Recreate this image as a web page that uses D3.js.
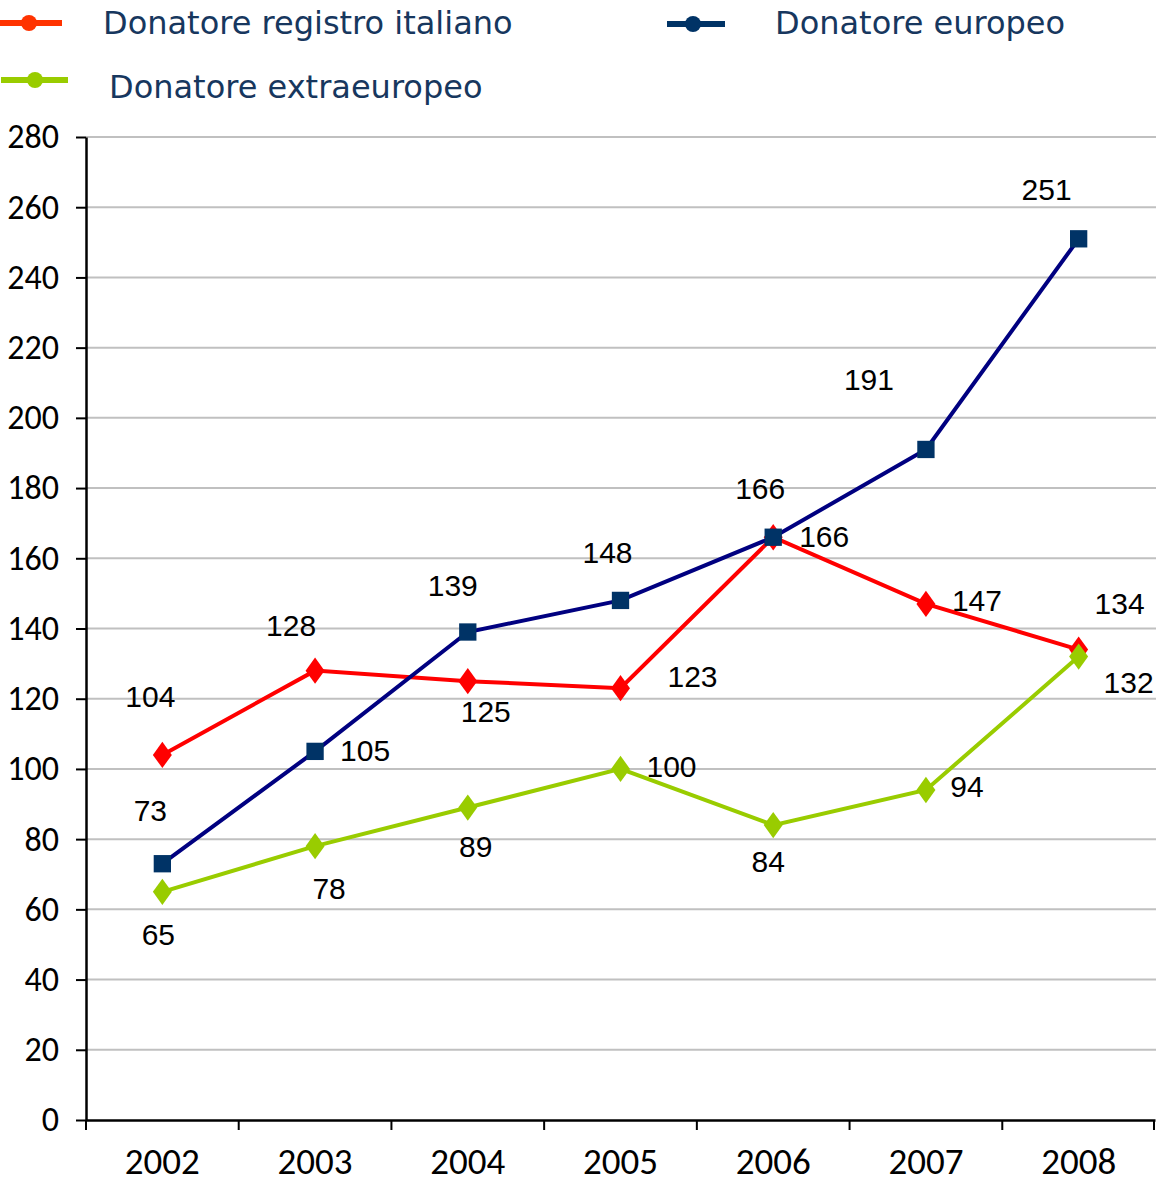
<!DOCTYPE html>
<html>
<head>
<meta charset="utf-8">
<script src="https://cdn.jsdelivr.net/npm/d3@7"></script>
<style>
  body { margin: 0; background: #fff; }
  svg { display: block; }
</style>
</head>
<body>
<div id="chart"></div>
<script>
'use strict';

var years = ['2002', '2003', '2004', '2005', '2006', '2007', '2008'];
var italiano = [104, 128, 125, 123, 166, 147, 134];
var europeo = [73, 105, 139, 148, 166, 191, 251];
var extraeuropeo = [65, 78, 89, 100, 84, 94, 132];
var yTicks = [0, 20, 40, 60, 80, 100, 120, 140, 160, 180, 200, 220, 240, 260, 280];

// label offsets (dx, dy) from the point, as placed in the original
var italianoOff = [[-12, -58], [-24, -45], [18, 30], [72, -12], [51, -1], [51, -3], [41, -46]];
var europeoOff = [[-12, -53], [50, -1], [-15, -47], [-13, -48], [-13, -49], [-57, -70], [-32, -49]];
var extraOff = [[-4, 43], [14, 42], [8, 39], [51, -2], [-5, 36], [41, -3], [50, 26]];

var W = 1156, H = 1186;
var margin = {left: 86, right: 1, top: 137, bottom: 66};

var svg = d3.select('#chart').append('svg')
  .attr('width', W).attr('height', H);

var x = d3.scaleBand().domain(years)
  .range([margin.left, W - margin.right]);
var y = d3.scaleLinear().domain([0, 280])
  .range([H - margin.bottom, margin.top]);

var cx = function(d, i){ return x(years[i]) + x.bandwidth() / 2; };

// gridlines
svg.append('g').selectAll('line')
  .data(yTicks.filter(function(d){ return d > 0; }))
  .enter().append('line')
    .attr('x1', margin.left).attr('x2', W)
    .attr('y1', function(d){ return y(d); })
    .attr('y2', function(d){ return y(d); })
    .attr('stroke', '#c0c0c0').attr('stroke-width', 2);

// axes
var yAxis = svg.append('g')
  .attr('transform', 'translate(' + margin.left + ',0)')
  .call(d3.axisLeft(y).tickValues(yTicks).tickSize(10).tickSizeOuter(0).tickPadding(17));
yAxis.selectAll('text')
  .style('font-family', 'Carlito, Lato, sans-serif')
  .style('font-size', '34px').attr('fill', '#000');

var xAxis = svg.append('g')
  .attr('transform', 'translate(0,' + y(0) + ')')
  .call(d3.axisBottom(x).tickSize(0).tickSizeOuter(0).tickPadding(28));
xAxis.selectAll('text')
  .style('font-family', 'Carlito, Lato, sans-serif')
  .style('font-size', '37px').attr('fill', '#000');
// x ticks at band boundaries
xAxis.selectAll('.sep')
  .data(years.map(function(d){ return x(d); }).concat([W - margin.right - 1]))
  .enter().append('line')
    .attr('x1', function(d){ return d; }).attr('x2', function(d){ return d; })
    .attr('y1', 0).attr('y2', 10)
    .attr('stroke', '#000').attr('stroke-width', 2);

svg.selectAll('.domain').attr('stroke', '#000').attr('stroke-width', 2.5);
svg.selectAll('.tick line').attr('stroke', '#000').attr('stroke-width', 2);

var line = d3.line()
  .x(function(d, i){ return cx(d, i); })
  .y(function(d){ return y(d); });

var series = [
  {values: italiano, off: italianoOff, line: '#ff0000', marker: '#ff0000', shape: d3.symbolDiamond},
  {values: europeo, off: europeoOff, line: '#000080', marker: '#003366', shape: d3.symbolSquare},
  {values: extraeuropeo, off: extraOff, line: '#99cc00', marker: '#99cc00', shape: d3.symbolDiamond}
];

series.forEach(function(s){
  var g = svg.append('g');
  g.append('path').datum(s.values)
    .attr('d', line)
    .attr('fill', 'none')
    .attr('stroke', s.line)
    .attr('stroke-width', 4);

  g.selectAll('.m').data(s.values)
    .enter().append('path')
      .attr('d', d3.symbol().type(s.shape).size(s.shape === d3.symbolSquare ? 300 : 200))
      .attr('transform', function(d, i){
        return 'translate(' + cx(d, i) + ',' + y(d) + ')' + (s.shape === d3.symbolDiamond ? ' scale(1.25,1)' : '');
      })
      .attr('fill', s.marker);

  g.selectAll('.lbl').data(s.values)
    .enter().append('text')
      .attr('x', function(d, i){ return cx(d, i) + s.off[i][0]; })
      .attr('y', function(d, i){ return y(d) + s.off[i][1]; })
      .attr('text-anchor', 'middle')
      .attr('dominant-baseline', 'central')
      .style('font-family', 'Liberation Sans, Arial, sans-serif')
      .style('font-size', '30px')
      .attr('fill', '#000')
      .text(function(d){ return d; });
});

// legend
var legend = [
  {name: 'Donatore registro italiano', color: '#ff3300', x1: 0, x2: 62, cx: 29, y: 23, tx: 103, ty: 34},
  {name: 'Donatore europeo', color: '#003366', x1: 667, x2: 725, cx: 693, y: 24, tx: 775, ty: 34},
  {name: 'Donatore extraeuropeo', color: '#99cc00', x1: 1, x2: 68, cx: 35, y: 80, tx: 109, ty: 98}
];

var lg = svg.append('g').selectAll('g').data(legend).enter().append('g');
lg.append('line')
  .attr('x1', function(d){ return d.x1; }).attr('x2', function(d){ return d.x2; })
  .attr('y1', function(d){ return d.y; }).attr('y2', function(d){ return d.y; })
  .attr('stroke', function(d){ return d.color; }).attr('stroke-width', 6);
lg.append('circle')
  .attr('cx', function(d){ return d.cx; }).attr('cy', function(d){ return d.y; })
  .attr('r', 8).attr('fill', function(d){ return d.color; });
lg.append('text')
  .attr('x', function(d){ return d.tx; })
  .attr('y', function(d){ return d.ty; })
  .style('font-family', 'DejaVu Sans, Verdana, sans-serif')
  .style('font-size', '32px')
  .attr('fill', '#17375e')
  .text(function(d){ return d.name; });
</script>
</body>
</html>
